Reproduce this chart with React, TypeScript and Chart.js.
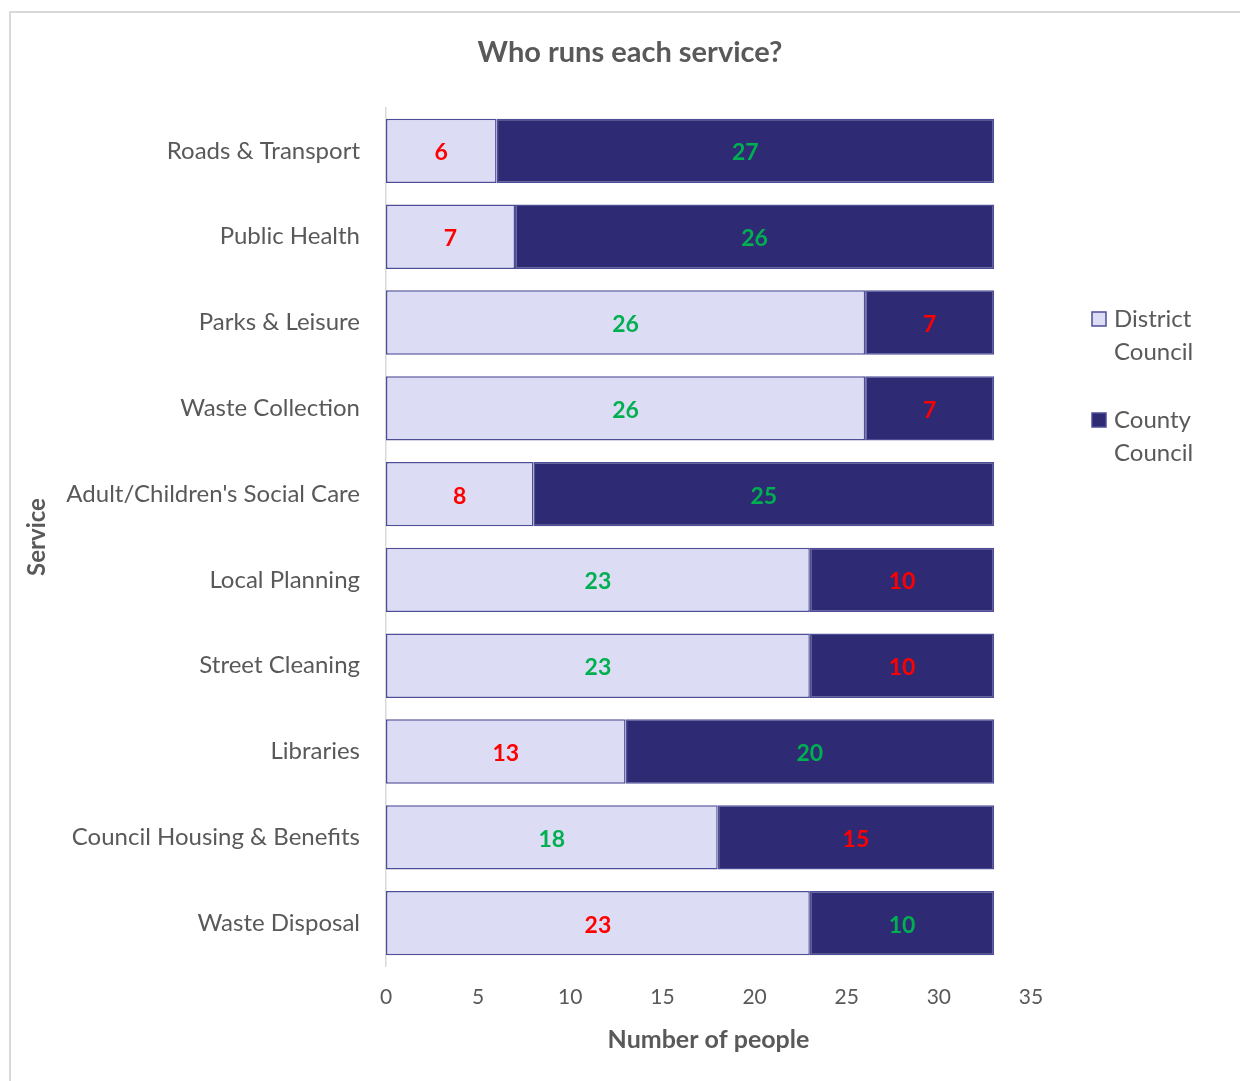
import React, { useEffect, useRef } from 'react';
import { Chart, registerables } from 'chart.js';

Chart.register(...registerables);

const categories = [
  'Roads & Transport',
  'Public Health',
  'Parks & Leisure',
  'Waste Collection',
  "Adult/Children's Social Care",
  'Local Planning',
  'Street Cleaning',
  'Libraries',
  'Council Housing & Benefits',
  'Waste Disposal',
];
const districtValues = [6, 7, 26, 26, 8, 23, 23, 13, 18, 23];
const countyValues = [27, 26, 7, 7, 25, 10, 10, 20, 15, 10];
const correctAnswers = ['County', 'County', 'District', 'District', 'County', 'District', 'District', 'County', 'District', 'County'];
const seriesNames = ['District', 'County'];
const seriesLegend = [['District', 'Council'], ['County', 'Council']];
const xMin = 0;
const xMax = 35;
const xStep = 5;

const FONT = 'Lato, "Open Sans", sans-serif';
const TEXT = '#595959';
const GREEN = '#00B050';
const RED = '#FF0000';
const DISTRICT_FILL = '#DCDCF5';
const COUNTY_FILL = '#2E2A74';
const BAR_BORDER = '#4E4E98';

const labelPlugin = {
  id: 'valueLabels',
  afterDatasetsDraw(chart: any) {
    const ctx = chart.ctx;
    ctx.save();
    ctx.font = `bold 23px ${FONT}`;
    ctx.textAlign = 'center';
    ctx.textBaseline = 'middle';
    chart.data.datasets.forEach((ds: any, di: number) => {
      const meta = chart.getDatasetMeta(di);
      meta.data.forEach((el: any, i: number) => {
        const { x, base, y } = el.getProps(['x', 'base', 'y'], true);
        const correct = correctAnswers[i] === seriesNames[di];
        ctx.fillStyle = correct ? GREEN : RED;
        ctx.fillText(String(ds.data[i]), (x + base) / 2, y + 2);
      });
    });
    ctx.restore();
  },
};

const titleLegendPlugin = {
  id: 'titleLegend',
  afterDraw(chart: any) {
    const ctx = chart.ctx;
    const area = chart.chartArea;
    ctx.save();
    // title
    ctx.font = `bold 29px ${FONT}`;
    ctx.fillStyle = TEXT;
    ctx.textAlign = 'center';
    ctx.textBaseline = 'middle';
    ctx.fillText('Who runs each service?', chart.width / 2 + 10, 53);
    // legend
    const lx = area.right + 61;
    const startY = 319;
    const itemGap = 101;
    const lineGap = 33;
    ctx.font = `24px ${FONT}`;
    ctx.textAlign = 'left';
    chart.data.datasets.forEach((ds: any, di: number) => {
      const y0 = startY + di * itemGap;
      ctx.fillStyle = ds.backgroundColor;
      ctx.fillRect(lx, y0 - 7, 14, 14);
      ctx.strokeStyle = BAR_BORDER;
      ctx.lineWidth = 1.5;
      ctx.strokeRect(lx, y0 - 7, 14, 14);
      ctx.fillStyle = TEXT;
      seriesLegend[di].forEach((line, li) => {
        ctx.fillText(line, lx + 22, y0 + li * lineGap);
      });
    });
    ctx.restore();
  },
};

export default function App() {
  const canvasRef = useRef<HTMLCanvasElement | null>(null);

  useEffect(() => {
    const canvas = canvasRef.current;
    if (!canvas) return;
    const chart = new Chart(canvas, {
      type: 'bar',
      data: {
        labels: categories,
        datasets: [
          {
            label: 'District Council',
            data: districtValues,
            backgroundColor: DISTRICT_FILL,
            borderColor: BAR_BORDER,
            borderWidth: 1.5,
            borderSkipped: false,
            barPercentage: 0.75,
            categoryPercentage: 1,
          },
          {
            label: 'County Council',
            data: countyValues,
            backgroundColor: COUNTY_FILL,
            borderColor: BAR_BORDER,
            borderWidth: 1.5,
            borderSkipped: false,
            barPercentage: 0.75,
            categoryPercentage: 1,
          },
        ],
      },
      options: {
        indexAxis: 'y',
        responsive: false,
        animation: false,
        maintainAspectRatio: false,
        layout: { padding: { left: 18, right: 209, top: 108, bottom: 0 } },
        plugins: {
          legend: { display: false },
          title: { display: false },
          tooltip: { enabled: false },
        },
        scales: {
          x: {
            stacked: true,
            min: xMin,
            max: xMax,
            ticks: {
              stepSize: xStep,
              color: TEXT,
              font: { family: FONT, size: 21 },
              padding: 19,
            },
            grid: { display: false, drawTicks: false },
            border: { display: false },
            title: {
              display: true,
              text: 'Number of people',
              color: TEXT,
              font: { family: FONT, size: 25, weight: 'bold' },
              padding: { top: 0, bottom: 26 },
            },
            afterFit(scale: any) {
              scale.height = 115;
            },
          },
          y: {
            stacked: true,
            ticks: {
              color: TEXT,
              font: { family: FONT, size: 24 },
              padding: 26,
            },
            grid: { display: false, drawTicks: false },
            border: { display: true, color: '#D9D9D9', width: 1.5 },
            title: {
              display: true,
              text: 'Service',
              color: TEXT,
              font: { family: FONT, size: 24, weight: 'bold' },
              padding: { top: 5, bottom: 0 },
            },
            afterFit(scale: any) {
              scale.width = 368;
            },
          },
        },
      } as any,
      plugins: [labelPlugin, titleLegendPlugin],
    });
    return () => chart.destroy();
  }, []);

  return (
    <div style={{ position: 'absolute', left: 0, top: 0, width: 1240, height: 1081, overflow: 'hidden', background: '#fff' }}>
      <div
        style={{
          position: 'absolute',
          left: 9,
          top: 11,
          width: 1300,
          height: 1200,
          border: '2px solid #D9D9D9',
          boxSizing: 'border-box',
        }}
      />
      <canvas ref={canvasRef} width={1240} height={1081} style={{ position: 'absolute', left: 0, top: 0 }} />
    </div>
  );
}
